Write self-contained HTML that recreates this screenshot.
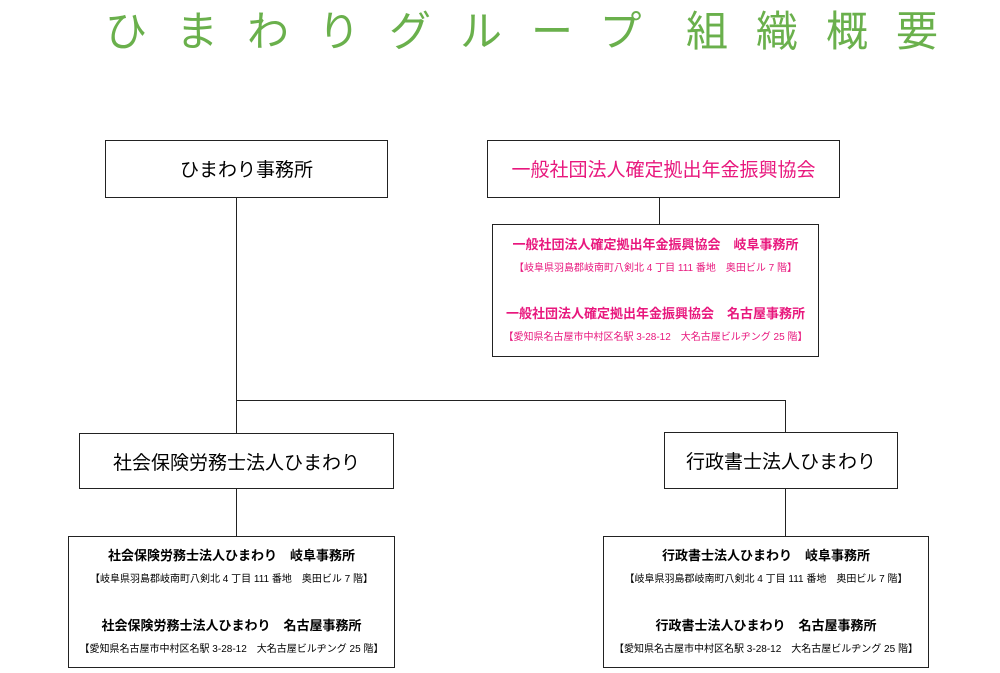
<!DOCTYPE html>
<html><head><meta charset="utf-8"><style>
body{margin:0;width:1000px;height:673px;background:#fff;position:relative;overflow:hidden;font-family:"Liberation Sans","Noto Sans CJK JP",sans-serif}
.a{position:absolute}
.b{position:absolute;border:1px solid #222;box-sizing:border-box;background:#fff}
.l{position:absolute;background:#222}
.t{position:absolute;left:0;right:0;text-align:center;white-space:nowrap}
.h{font-size:13px;font-weight:bold}
.s{font-size:10px}
.pk{color:#e8177d}
</style></head><body>
<div class="a" style="left:105px;top:-2px;font-size:42px;color:#6ab04c;letter-spacing:29px;white-space:nowrap">ひまわりグループ</div>
<div class="a" style="left:686px;top:-2px;font-size:42px;color:#6ab04c;letter-spacing:28px;white-space:nowrap">組織概要</div>

<div class="l" style="left:236px;top:197px;width:1px;height:339px"></div>
<div class="l" style="left:236px;top:400px;width:549px;height:1px"></div>
<div class="l" style="left:785px;top:400px;width:1px;height:136px"></div>
<div class="l" style="left:659px;top:197px;width:1px;height:28px"></div>

<div class="b" style="left:105px;top:140px;width:283px;height:58px"><div class="t" style="top:14px;font-size:19px">ひまわり事務所</div></div>
<div class="b" style="left:487px;top:140px;width:353px;height:58px"><div class="t pk" style="top:14px;font-size:19px">一般社団法人確定拠出年金振興協会</div></div>

<div class="b" style="left:492px;top:224px;width:327px;height:133px">
<div class="t h pk" style="top:9px">一般社団法人確定拠出年金振興協会　岐阜事務所</div>
<div class="t s pk" style="top:34px">【岐阜県羽島郡岐南町八剣北 4 丁目 111 番地　奥田ビル 7 階】</div>
<div class="t h pk" style="top:78px">一般社団法人確定拠出年金振興協会　名古屋事務所</div>
<div class="t s pk" style="top:103px">【愛知県名古屋市中村区名駅 3-28-12　大名古屋ビルヂング 25 階】</div>
</div>

<div class="b" style="left:79px;top:433px;width:315px;height:56px"><div class="t" style="top:14px;font-size:19px">社会保険労務士法人ひまわり</div></div>
<div class="b" style="left:664px;top:432px;width:234px;height:57px"><div class="t" style="top:14px;font-size:19px">行政書士法人ひまわり</div></div>

<div class="b" style="left:68px;top:536px;width:327px;height:132px">
<div class="t h" style="top:8px">社会保険労務士法人ひまわり　岐阜事務所</div>
<div class="t s" style="top:33px">【岐阜県羽島郡岐南町八剣北 4 丁目 111 番地　奥田ビル 7 階】</div>
<div class="t h" style="top:78px">社会保険労務士法人ひまわり　名古屋事務所</div>
<div class="t s" style="top:103px">【愛知県名古屋市中村区名駅 3-28-12　大名古屋ビルヂング 25 階】</div>
</div>

<div class="b" style="left:603px;top:536px;width:326px;height:132px">
<div class="t h" style="top:8px">行政書士法人ひまわり　岐阜事務所</div>
<div class="t s" style="top:33px">【岐阜県羽島郡岐南町八剣北 4 丁目 111 番地　奥田ビル 7 階】</div>
<div class="t h" style="top:78px">行政書士法人ひまわり　名古屋事務所</div>
<div class="t s" style="top:103px">【愛知県名古屋市中村区名駅 3-28-12　大名古屋ビルヂング 25 階】</div>
</div>
</body></html>
